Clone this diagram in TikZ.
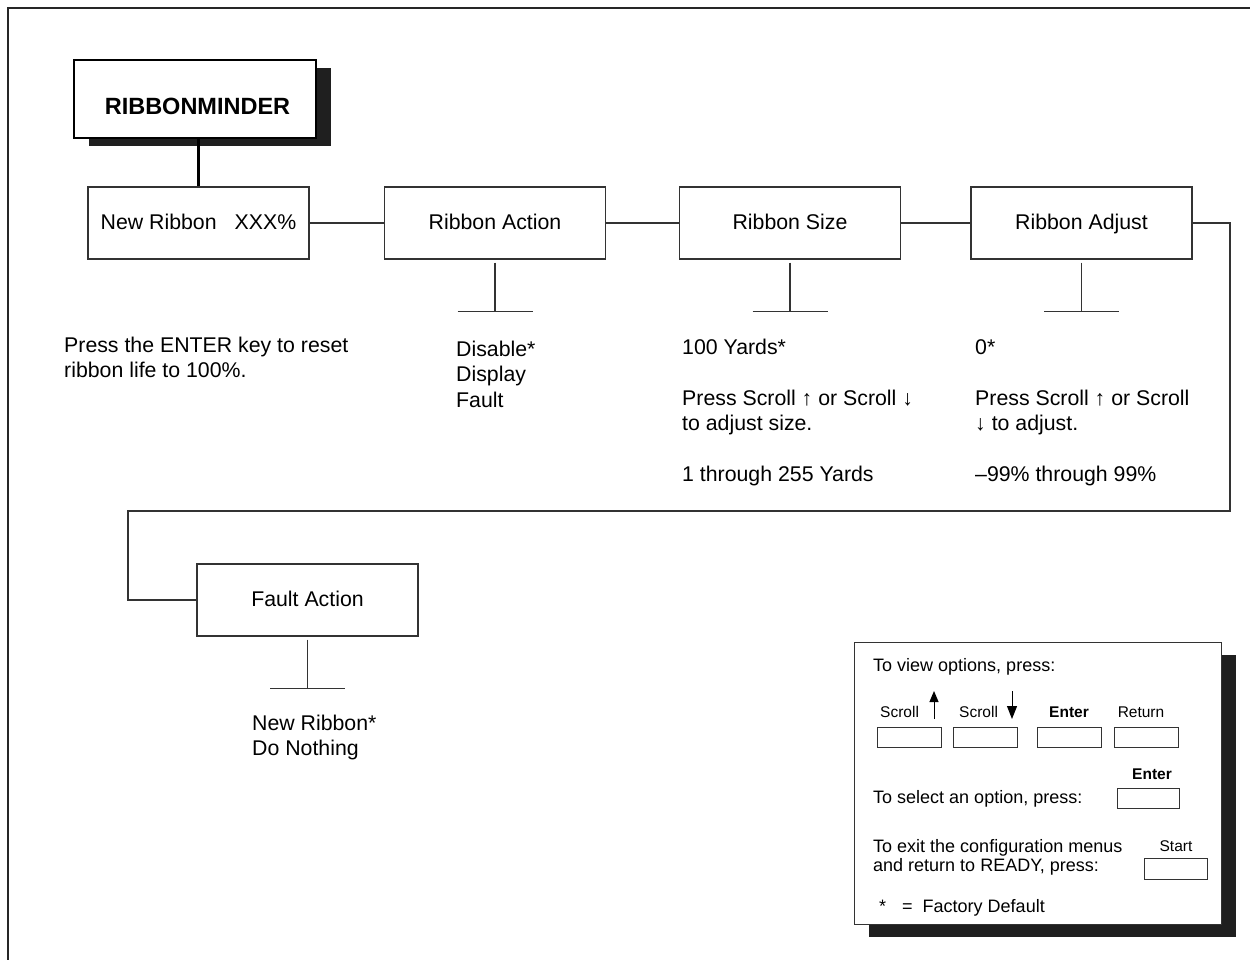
\documentclass[tikz,border=0pt]{standalone}
\usepackage{fontspec}
\setmainfont{Liberation Sans}
\usepackage{tikz}
\usetikzlibrary{arrows.meta,shadows}

\tikzset{
  menubox/.style={draw=black!80, line width=1.1pt, minimum width=221pt, minimum height=72pt,
    inner sep=0pt, text height=15.2pt, text depth=2.5pt, font=\fontsize{21.3}{25}\selectfont},
  titlebox/.style={draw=black, line width=2.6pt, fill=white, minimum width=242pt, minimum height=78pt,
    inner sep=0pt, font=\bfseries\fontsize{23.5}{28}\selectfont,
    drop shadow={shadow xshift=15pt, shadow yshift=-8pt, fill=black!88, opacity=1}},
  legendbox/.style={draw=black!80, line width=1pt, fill=white, minimum width=367pt, minimum height=282pt,
    drop shadow={shadow xshift=15pt, shadow yshift=-13pt, fill=black!88, opacity=1}},
  choices/.style={anchor=base west, align=left, inner sep=0pt, font=\fontsize{21.3}{25.5}\selectfont},
  legendtext/.style={anchor=base west, align=left, inner sep=0pt, font=\fontsize{18}{18.5}\selectfont},
  keybox/.style={draw=black!80, line width=1pt, minimum width=64pt, minimum height=20pt, inner sep=0pt},
  keylabel/.style={anchor=base, inner sep=0pt, font=\fontsize{15.5}{18}\selectfont},
  wire/.style={black!80, line width=1.1pt},
}

\begin{document}
\begin{tikzpicture}[x=1pt,y=-1pt]
\useasboundingbox (0,0) rectangle (1250,960);
\draw[line width=2pt, black!85] (8,960) -- (8,8) -- (1250,8);

% menu boxes
\node[titlebox, text height=31pt, text depth=0pt] (title) at (195,99) {\hspace{5pt}RIBBONMINDER};
\node[menubox] (newrib) at (198.5,223) {New Ribbon\hspace{0.85em}XXX\%};
\node[menubox] (action) at (495,223) {Ribbon Action};
\node[menubox] (size) at (790,223) {Ribbon Size};
\node[menubox] (adjust) at (1081.5,223) {Ribbon Adjust};
\node[menubox] (fault) at (307.5,600) {Fault Action};

\draw[line width=2.6pt] (title.south -| newrib.north) -- (newrib.north);
\draw[wire] (newrib) -- (action);
\draw[wire] (action) -- (size);
\draw[wire] (size) -- (adjust);
\draw[wire] (adjust.east) -| (1230,511) -| (128,600) -- (fault.west);

% option stems
\foreach \b in {action,size,adjust,fault}{
  \draw[wire] ([yshift=-3pt]\b.south) -- ++(0,49) coordinate (\b-t);
  \draw[wire] ([xshift=-37.5pt]\b-t) -- ([xshift=37.5pt]\b-t);
}

% option texts (anchored on their last line)
\node[choices] (resetnote) at (64,377.5) {Press the ENTER key to reset\\ribbon life to 100\%.};
\node[choices] (actionopts) at (456,407) {Disable*\\Display\\Fault};
\node[choices] (sizedef) at (682,354) {100 Yards*};
\node[choices] (sizehelp) at (682,430.5) {Press Scroll ↑ or Scroll ↓\\to adjust size.};
\node[choices] (sizerange) at (682,481) {1 through 255 Yards};
\node[choices] (adjdef) at (975,354) {0*};
\node[choices] (adjhelp) at (975,430.5) {Press Scroll ↑ or Scroll\\↓ to adjust.};
\node[choices] (adjrange) at (975,481) {–99\% through 99\%};
\node[choices] (faultopts) at (252,755.5) {New Ribbon*\\Do Nothing};

% legend
\node[legendbox] (legend) at (1037.5,783) {};
\node[legendtext] (viewtxt) at (873,671) {To view options, press:};
\node[keybox] (kup) at (909,737) {};
\node[keybox] (kdown) at (985,737) {};
\node[keybox] (kenter) at (1069,737) {};
\node[keybox] (kreturn) at (1146,737) {};
\node[keylabel, anchor=base west] (lup) at (880,717) {Scroll};
\node[keylabel, anchor=base west] (ldown) at (959,717) {Scroll};
\node[keylabel] (lenter) at (1069,717) {\bfseries Enter};
\node[keylabel] (lreturn) at (1141,717) {Return};
\draw[line width=1pt, -{Triangle[length=11pt,width=9pt]}] (934,719) -- (934,691);
\draw[line width=1pt, -{Triangle[length=13pt,width=10pt]}] (1012,691) -- (1012,719);

\node[legendtext] (selecttxt) at (873,803) {To select an option, press:};
\node[keylabel] (lselect) at (1152,779) {\bfseries Enter};
\node[keybox, minimum width=62pt] (kselect) at (1148,798) {};

\node[legendtext] (exittxt) at (873,871.2) {To exit the configuration menus\\and return to READY, press:};
\node[keylabel] (lstart) at (1176,851) {Start};
\node[keybox, minimum width=63pt, minimum height=21pt] (kstart) at (1175.5,868.5) {};

\node[legendtext] (defaulttxt) at (879,912) {*\hspace{16pt}=\hspace{10pt}Factory Default};
\end{tikzpicture}
\end{document}
